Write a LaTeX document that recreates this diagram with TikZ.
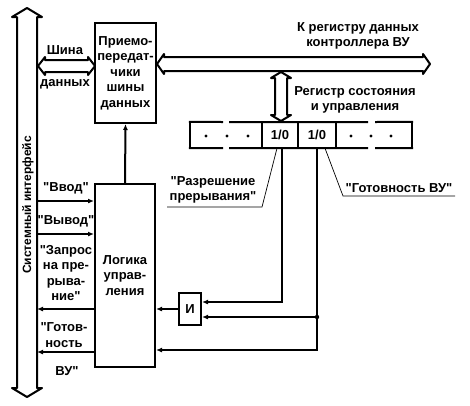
\documentclass[tikz,border=0pt]{standalone}
\usepackage{fontspec}
\setmainfont{Liberation Sans}[Ligatures=TeXOff]
\usetikzlibrary{arrows.meta,positioning,calc}
\tikzset{
  blk/.style={draw,line width=2pt,inner sep=0pt,align=center},
  lbl/.style={align=center,inner sep=0pt},
  cell/.style={minimum height=26,inner sep=0pt},
  wire/.style={line width=2pt,line cap=rect},
  bus/.style={line width=2pt,line join=round},
  sig/.style={line width=2pt,-{Latex[length=6pt,width=5pt]}},
  lead/.style={line width=0.7pt},
}

\begin{document}
\begin{tikzpicture}[x=1pt,y=-1pt,font=\fontsize{13}{15.5}\selectfont\bfseries]
    \useasboundingbox (0,0) rectangle (470,405);
    % system interface
    \draw[bus] (27,8) -- (42,17) -- (37,17) -- (37,388) -- (42,388) -- (27,397) -- (12,388) -- (17,388) -- (17,17) -- (12,17) -- cycle;
    \node[lbl,rotate=90,font=\fontsize{12}{14}\selectfont\bfseries] (sysif) at (28,205) {Системный интерфейс};
    % blocks
    \node[blk,minimum width=61,minimum height=100] (trx) at (125.5,73) {Приемо-\\передат-\\чики\\шины\\данных};
    \node[blk,minimum width=60,minimum height=183] (logic) at (125,275.5) {Логика\\управ-\\ления};
    \node[blk,minimum width=22,minimum height=32] (andg) at (190,309) {И};
    % register
    \node[cell,minimum width=72] (rA) at (226,135) {};
    \node[cell,minimum width=36] (rB) at (280,135) {1/0};
    \node[cell,minimum width=38] (rC) at (317,135) {1/0};
    \node[cell,minimum width=76] (rD) at (374,135) {};
    \draw[wire] (rA.north west) -- (222,122) (230,122) -- (367,122) (376,122) -- (rD.north east);
    \draw[wire] (rA.south west) -- (222,148) (230,148) -- (367,148) (376,148) -- (rD.south east);
    \draw[wire] (rA.north west) -- (rA.south west) (rD.north east) -- (rD.south east);
    \draw[wire] (rB.north west) -- (rB.south west) (rC.north west) -- (rC.south west) (rD.north west) -- (rD.south west);
    \foreach \x in {206,227,248,351,371,391}
        \fill (\x,136) circle (1.6);
    % buses
    \draw[bus] (38,66) -- (45,57) -- (45,60) -- (88,60) -- (88,57) -- (95,66) -- (88,75) -- (88,72) -- (45,72) -- (45,75) -- cycle;
    \draw[bus] (157,64) -- (164,54) -- (164,57) -- (423,57) -- (423,54) -- (430,64) -- (423,74) -- (423,71) -- (164,71) -- (164,74) -- cycle;
    \draw[bus] (281,72) -- (291,78) -- (287,78) -- (287,115) -- (291,115) -- (281,121) -- (271,115) -- (275,115) -- (275,78) -- (271,78) -- cycle;
    % labels
    \node[lbl] (busA) at (65,50) {Шина};
    \node[lbl] (busB) at (65,84) {данных};
    \node[lbl] (toreg) at (358,36) {К регистру данных\\контроллера ВУ};
    \node[lbl] (csr) at (355,100) {Регистр состояния\\и управления};
    \node[lbl] (ie) at (213,190) {"Разрешение\\прерывания"};
    \node[lbl] (rdy) at (399,188) {"Готовность ВУ"};
    \node[lbl] (inp) at (66,188) {"Ввод"};
    \node[lbl] (outp) at (66,221) {"Вывод"};
    \node[lbl] (irq) at (66,273) {"Запрос\\на пре-\\рыва-\\ние"};
    \node[lbl] (rdyA) at (64,335) {"Готов-\\ность};
    \node[lbl] (rdyB) at (67,371) {ВУ"};
    % signals
    \coordinate (sIn) at (37,201);
    \coordinate (sOut) at (37,234);
    \coordinate (sIrq) at (37,309);
    \coordinate (sRdy) at (37,352);
    \draw[sig] (sIn) -- (sIn -| logic.west);
    \draw[sig] (sOut) -- (sOut -| logic.west);
    \draw[sig] (sIrq -| logic.west) -- (sIrq);
    \draw[sig] (sRdy -| logic.west) -- (sRdy);
    \draw[sig] (logic.north) -- (trx.south);
    \draw[sig] (andg.west) -- (andg.west -| logic.east);
    \coordinate (ieEnd) at ($(rB.south |- andg.east)+(2,-7)$);
    \coordinate (jn) at ($(rC.south |- andg.east)+(0,8)$);
    \coordinate (rdyEnd) at ($(rC.south |- andg.east)+(0,41)$);
    \draw[sig] ([xshift=2pt]rB.south) -- (ieEnd) -- (ieEnd -| andg.east);
    \draw[sig] (rC.south) -- (rdyEnd) -- (rdyEnd -| logic.east);
    \draw[sig] (jn) -- (jn -| andg.east);
    \fill (jn) circle (2.2);
    % leaders
    \draw[lead] (167,207) -- (262,207) -- ([xshift=-3pt]rB.south);
    \draw[lead] (455,196) -- (343,196) -- ([xshift=8pt]rC.south);
\end{tikzpicture}
\end{document}
